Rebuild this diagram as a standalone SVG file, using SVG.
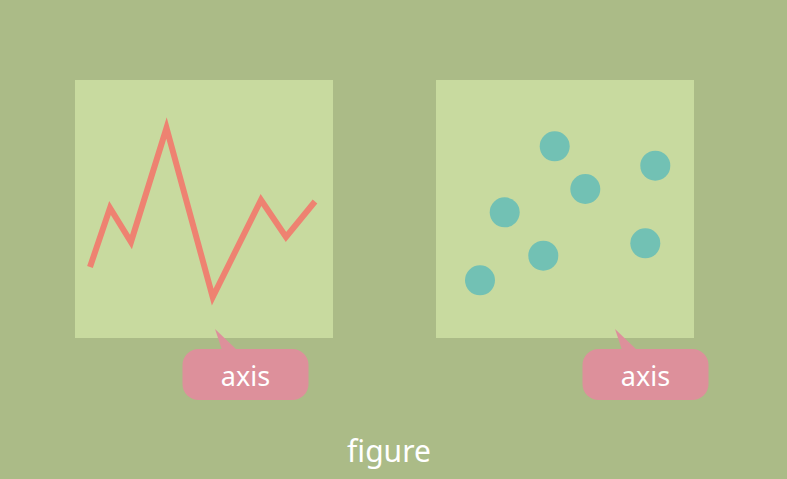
<svg xmlns="http://www.w3.org/2000/svg" width="787" height="479" viewBox="0 0 787 479">
<style>
.panel{fill:#c8da9f}
.callout{fill:#dd909b}
.lbl{font-family:"Noto Sans","Open Sans",sans-serif;fill:#ffffff;text-anchor:middle}
.dot{fill:#72c1b4}
</style>
<rect width="787" height="479" fill="#abbb87"/>
<g id="axes-left">
<rect class="panel" x="75" y="80" width="258" height="258"/>
<polyline points="90,267 110,208 131,242 166.5,128 212.7,297 261,200 286,237 315,201.5" fill="none" stroke="#ee8271" stroke-width="6" stroke-linejoin="miter"/>
</g>
<g id="axes-right">
<rect class="panel" x="436" y="80" width="258" height="258"/>
<circle class="dot" cx="554.7" cy="146.3" r="15"/>
<circle class="dot" cx="655.3" cy="165.7" r="15"/>
<circle class="dot" cx="585.3" cy="189" r="15"/>
<circle class="dot" cx="504.7" cy="212.3" r="15"/>
<circle class="dot" cx="645.3" cy="243.3" r="15"/>
<circle class="dot" cx="543.3" cy="255.7" r="15"/>
<circle class="dot" cx="480" cy="280.3" r="15"/>
</g>
<g id="callout-left">
<path class="callout" d="M215,329 L222,350 L237,350 Z"/>
<rect class="callout" x="182.5" y="349" width="126" height="51" rx="16"/>
<text class="lbl" x="245.5" y="386" font-size="27">axis</text>
</g>
<g id="callout-right">
<path class="callout" d="M615,329 L622,350 L637,350 Z"/>
<rect class="callout" x="582.5" y="349" width="126" height="51" rx="16"/>
<text class="lbl" x="645.5" y="386" font-size="27">axis</text>
</g>
<g id="figure-label">
<text class="lbl" x="389" y="462" font-size="30">figure</text>
</g>
</svg>
